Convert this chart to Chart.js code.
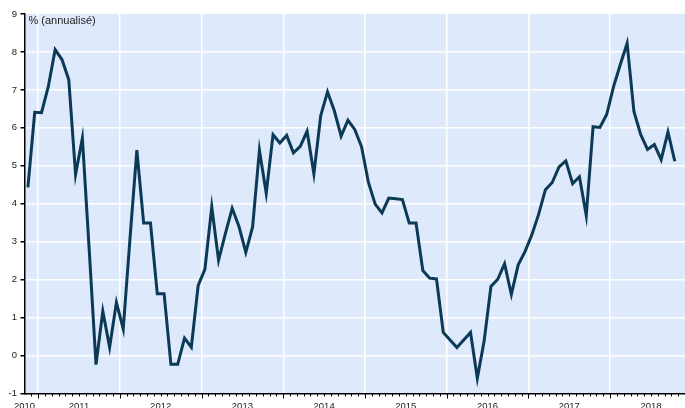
<!DOCTYPE html>
<html>
<head>
<meta charset="utf-8">
<script src="https://cdn.jsdelivr.net/npm/chart.js@4/dist/chart.umd.min.js"></script>
<style>
  html, body { margin: 0; padding: 0; background: #fff; }
  #wrap { width: 685px; height: 408px; }
</style>
</head>
<body>
<div id="wrap"><canvas id="chart" width="685" height="408"></canvas></div>
<script>
// monthly values, Nov 2010 -> Oct 2018 (% annualise)
const startYear = 2010;
const startMonth = 11; // November
const yearLabels = ["2010", "2011", "2012", "2013", "2014", "2015", "2016", "2017", "2018"];
const values = [
  4.43, 6.41,                                                       // 2010 Nov-Dec
  6.40, 7.09, 8.06, 7.80, 7.27, 4.77, 5.73, 2.80, -0.24, 1.17, 0.22, 1.40,   // 2011
  0.70, 3.10, 5.41, 3.49, 3.49, 1.63, 1.63, -0.23, -0.23, 0.46, 0.22, 1.84,  // 2012
  2.28, 3.92, 2.51, 3.21, 3.88, 3.40, 2.72, 3.39, 5.41, 4.28, 5.82, 5.60,    // 2013
  5.80, 5.34, 5.51, 5.91, 4.79, 6.32, 6.95, 6.45, 5.78, 6.20, 5.96, 5.50,    // 2014
  4.57, 3.99, 3.76, 4.15, 4.13, 4.11, 3.49, 3.49, 2.24, 2.04, 2.02, 0.61,    // 2015
  0.41, 0.21, 0.41, 0.61, -0.60, 0.38, 1.82, 2.01, 2.42, 1.61, 2.39, 2.74,   // 2016
  3.18, 3.72, 4.37, 4.56, 4.97, 5.13, 4.53, 4.71, 3.69, 6.03, 6.01, 6.35,    // 2017
  7.08, 7.67, 8.23, 6.43, 5.82, 5.43, 5.56, 5.16, 5.89, 5.12                 // 2018
];
const yTicks = [-1, 0, 1, 2, 3, 4, 5, 6, 7, 8, 9];

// x = months since 1 Nov 2010, points sit mid-month
const points = values.map((v, i) => ({ x: i + 0.5, y: v }));
const nMonths = 97;
const janOffset = 13 - startMonth; // first January boundary

const bgPlugin = {
  id: "plotBg",
  beforeDraw(c) {
    const a = c.chartArea, ctx = c.ctx;
    ctx.save();
    ctx.fillStyle = "#dee9fb";
    ctx.fillRect(a.left, a.top, a.right - a.left, a.bottom - a.top);
    ctx.restore();
  },
  afterDraw(c) {
    const a = c.chartArea, ctx = c.ctx, xs = c.scales.x;
    ctx.save();
    ctx.strokeStyle = "#000";
    ctx.lineWidth = 1;
    for (let m = 1; m <= nMonths; m++) {
      const px = Math.round(xs.getPixelForValue(m)) + 0.5;
      const len = (m - janOffset) % 12 === 0 ? 5 : 3;
      ctx.beginPath();
      ctx.moveTo(px, a.bottom);
      ctx.lineTo(px, a.bottom + len);
      ctx.stroke();
    }
    ctx.fillStyle = "#222";
    ctx.font = "11px 'Liberation Sans', Arial, sans-serif";
    ctx.textBaseline = "middle";
    ctx.fillText("% (annualisé)", a.left + 4, a.top + 7);
    ctx.restore();
  }
};

const font = { family: "'Liberation Sans', Arial, sans-serif", size: 9.5 };

chart = new Chart(document.getElementById("chart"), {
  type: "line",
  data: {
    datasets: [{
      data: points,
      borderColor: "#0b3a56",
      borderWidth: 3,
      pointRadius: 0,
      tension: 0,
      fill: false,
    }],
  },
  options: {
    responsive: false,
    animation: false,
    layout: { padding: { top: 14, left: 0, right: 0, bottom: 0 } },
    plugins: { legend: { display: false }, tooltip: { enabled: false } },
    scales: {
      x: {
        type: "linear",
        min: 0,
        max: nMonths,
        afterBuildTicks(scale) {
          const t = [];
          for (let m = 0; m <= nMonths; m++) t.push({ value: m });
          scale.ticks = t;
        },
        afterFit(scale) {
          scale.height = 14.5;
          scale.paddingLeft = 0;
          scale.paddingRight = 0;
        },
        ticks: {
          autoSkip: false,
          maxRotation: 0,
          minRotation: 0,
          padding: 7,
          color: "#222",
          font: font,
          callback(v) {
            if (v === 0) return yearLabels[0];
            const k = v - janOffset - 6;
            if (k >= 0 && k % 12 === 0) return yearLabels[1 + k / 12];
            return "";
          },
        },
        grid: {
          drawTicks: false,
          lineWidth: 1.5,
          color(ctx) {
            const v = ctx.tick && ctx.tick.value;
            return v > 0 && (v - janOffset) % 12 === 0 ? "#ffffff" : "rgba(0,0,0,0)";
          },
        },
        border: { display: true, color: "#000", width: 1.5 },
      },
      y: {
        min: -1,
        max: 9,
        afterBuildTicks(scale) { scale.ticks = yTicks.map((v) => ({ value: v })); },
        afterFit(scale) {
          scale.width = 24.5;
          scale.paddingTop = 0;
          scale.paddingBottom = 0;
        },
        ticks: { padding: 3.5, color: "#222", font: font },
        grid: {
          tickLength: 4,
          tickColor: "#000",
          lineWidth: 1.5,
          color(ctx) {
            const v = ctx.tick && ctx.tick.value;
            return v > -1 && v < 9 ? "#ffffff" : "rgba(0,0,0,0)";
          },
        },
        border: { display: true, color: "#000", width: 1.5 },
      },
    },
  },
  plugins: [bgPlugin],
});
</script>
</body>
</html>
